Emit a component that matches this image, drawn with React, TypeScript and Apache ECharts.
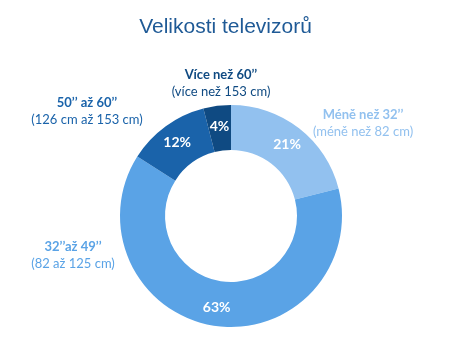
import React, { useEffect, useRef } from "react";
import * as echarts from "echarts";

const titleText = "Velikosti televizorů";
const categoryTitles = ["Méně než 32’’", "32’’až 49’’", "50’’ až 60’’", "Více než 60’’"];
const categorySubtitles = ["(méně než 82 cm)", "(82 až 125 cm)", "(126 cm až 153 cm)", "(více než 153 cm)"];
const shares = [21, 63, 12, 4];
const sliceColors = ["#92c1ef", "#5aa3e6", "#1a63aa", "#0f4a82"];
const labelColors = ["#92c1ef", "#5aa3e6", "#1a63aa", "#0f4a82"];

// label anchor positions (center of the two-line block), in px
const labelSpots = [
  [363, 122],
  [73, 254],
  [87, 110],
  [221, 82],
];

export default function App() {
  const ref = useRef<HTMLDivElement>(null);
  useEffect(() => {
    if (!ref.current) return;
    const chart = echarts.init(ref.current, null, { renderer: "svg" });
    const font = "Lato, 'Noto Sans', sans-serif";
    const data = shares.map((v, i) => ({
      value: v,
      name: categoryTitles[i],
      itemStyle: { color: sliceColors[i] },
    }));
    const outerData = shares.map((v, i) => ({
      value: v,
      name: categoryTitles[i],
      itemStyle: { color: "transparent" },
      label: {
        rich: {
          t: { color: labelColors[i], fontWeight: "bold", fontSize: 13, fontFamily: font, lineHeight: 17, align: "center" },
          s: { color: labelColors[i], fontSize: 13, fontFamily: font, lineHeight: 17, align: "center" },
        },
      },
    }));
    chart.setOption({
      animation: false,
      title: {
        text: titleText,
        left: "center",
        top: 10,
        textStyle: { color: "#1f5a96", fontSize: 21, fontWeight: "normal", fontFamily: "Liberation Sans, Arial, sans-serif" },
      },
      series: [
        {
          type: "pie",
          center: [231, 216],
          radius: [66, 111],
          startAngle: 90,
          clockwise: true,
          silent: true,
          data,
          label: {
            show: true,
            position: "inside",
            formatter: "{c}%",
            color: "#ffffff",
            fontWeight: "bold",
            fontSize: 14,
            fontFamily: font,
          },
          labelLine: { show: false },
        },
        {
          type: "pie",
          center: [231, 216],
          radius: [66, 111],
          startAngle: 90,
          clockwise: true,
          silent: true,
          z: 1,
          data: outerData,
          label: {
            show: true,
            position: "outside",
            overflow: "none",
            width: 200,
            formatter: (p: any) => `{t|${categoryTitles[p.dataIndex]}}\n{s|${categorySubtitles[p.dataIndex]}}`,
            align: "center",
          },
          labelLine: { show: false },
          labelLayout: (p: any) => ({
            x: labelSpots[p.dataIndex][0],
            y: labelSpots[p.dataIndex][1],
            align: "center",
            verticalAlign: "middle",
          }),
        },
      ],
    });
    return () => chart.dispose();
  }, []);
  return <div ref={ref} style={{ position: "fixed", left: 0, top: 0, width: 451, height: 354 }} />;
}
